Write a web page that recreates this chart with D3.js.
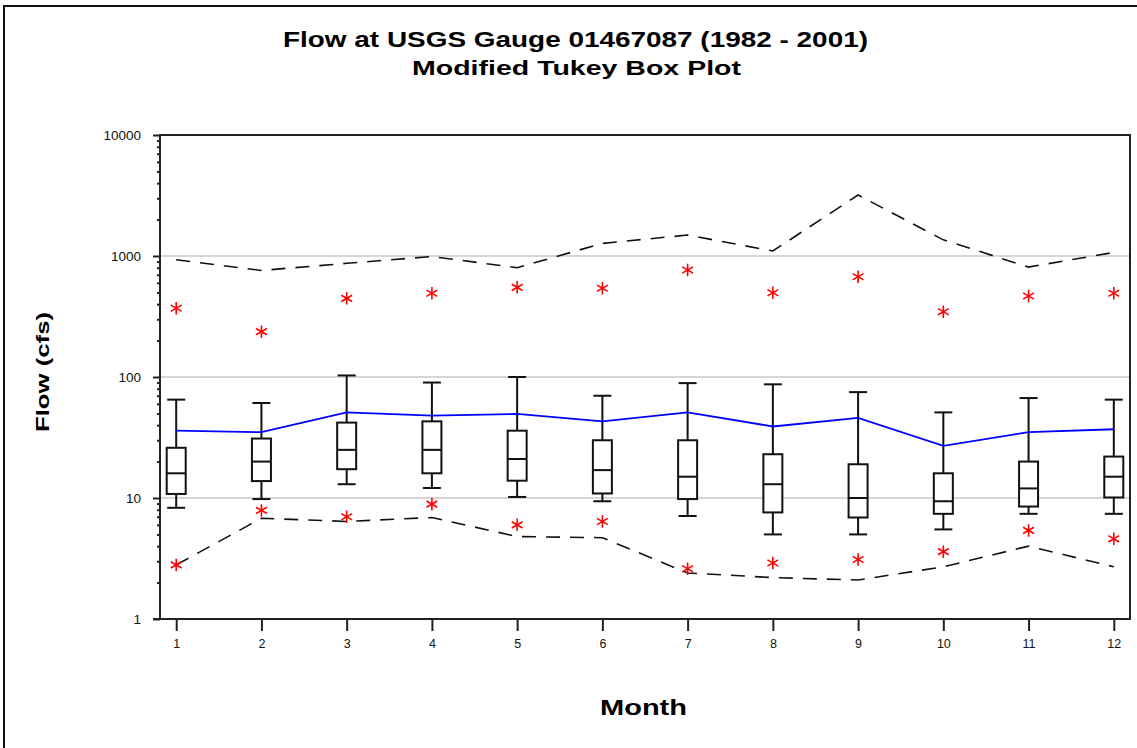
<!DOCTYPE html>
<html>
<head>
<meta charset="utf-8">
<script src="https://cdn.jsdelivr.net/npm/d3@7"></script>
<style>
  body { margin: 0; background: #fff; }
  text { font-family: "Liberation Sans", Arial, sans-serif; }
</style>
</head>
<body>
<div id="chart"></div>
<script>
// monthly flow statistics (cfs)
var months      = [1, 2, 3, 4, 5, 6, 7, 8, 9, 10, 11, 12];
var whiskerHigh = [65, 61, 103, 90, 100, 70, 89, 87, 75, 51, 67, 65];
var q3          = [26, 31, 42, 43, 36, 30, 30, 23, 19, 16, 20, 22];
var medians     = [16, 20, 25, 25, 21, 17, 15, 13, 10, 9.4, 12, 15];
var q1          = [10.8, 13.8, 17.3, 16, 13.9, 10.9, 9.8, 7.6, 6.9, 7.4, 8.5, 10.1];
var whiskerLow  = [8.3, 9.8, 13, 12.1, 10.2, 9.4, 7.1, 5.0, 5.0, 5.5, 7.4, 7.4];
var means       = [36, 35, 51, 48, 49.5, 43, 51, 39, 46, 27, 35, 37];
var maxFlow     = [930, 760, 870, 990, 800, 1270, 1490, 1100, 3190, 1360, 810, 1070];
var minFlow     = [2.8, 6.8, 6.4, 6.9, 4.8, 4.7, 2.4, 2.2, 2.1, 2.7, 4.0, 2.7];
var outHigh     = [370, 237, 447, 492, 551, 541, 766, 497, 674, 346, 467, 492];
var outLow      = [2.8, 7.9, 7.0, 8.9, 6.0, 6.4, 2.6, 2.9, 3.1, 3.6, 5.4, 4.6];
var yTicks      = [1, 10, 100, 1000, 10000];

var W = 1137, H = 748;
var margin = { top: 135, left: 160, right: 7, bottom: 129 };
var width = W - margin.left - margin.right;
var height = H - margin.top - margin.bottom;

var svg = d3.select("#chart").append("svg")
  .attr("width", W).attr("height", H);

// outer figure border
svg.append("path")
  .attr("d", "M4,748 V6 H1137")
  .attr("fill", "none").attr("stroke", "#111").attr("stroke-width", 2);

// the original's lettering is wide, so titles are fitted to the measured widths
svg.append("text").attr("x", 283).attr("y", 47)
  .attr("font-weight", "bold").attr("font-size", 22)
  .attr("textLength", 585).attr("lengthAdjust", "spacingAndGlyphs")
  .text("Flow at USGS Gauge 01467087 (1982 - 2001)");
svg.append("text").attr("x", 412).attr("y", 75)
  .attr("font-weight", "bold").attr("font-size", 21)
  .attr("textLength", 329).attr("lengthAdjust", "spacingAndGlyphs")
  .text("Modified Tukey Box Plot");

var x = d3.scaleLinear().domain([0.81, 12.19]).range([0, width]);
var y = d3.scaleLog().domain([1, 10000]).range([height, 0]);

var g = svg.append("g")
  .attr("transform", "translate(" + margin.left + "," + margin.top + ")");

// gridlines
g.selectAll("line.grid").data([10, 100, 1000]).enter()
  .append("line").attr("class", "grid")
  .attr("x1", 0).attr("x2", width)
  .attr("y1", d => y(d)).attr("y2", d => y(d))
  .attr("stroke", "#c8c8c8").attr("stroke-width", 1.5);

// minor ticks
var minor = [];
for (var e = 0; e < 4; e++)
  for (var k = 2; k <= 9; k++) minor.push(k * Math.pow(10, e));

var yMinor = g.append("g")
  .call(d3.axisLeft(y).tickValues(minor).tickFormat("").tickSize(3).tickSizeOuter(0));
yMinor.select(".domain").remove();

var yAxis = g.append("g")
  .call(d3.axisLeft(y).tickValues(yTicks).tickFormat(d3.format("d"))
    .tickSize(7).tickSizeOuter(0).tickPadding(12));
yAxis.select(".domain").remove();
yAxis.selectAll("text").attr("font-size", 13.5).attr("fill", "#111");

var xAxis = g.append("g")
  .attr("transform", "translate(0," + height + ")")
  .call(d3.axisBottom(x).tickValues(months).tickFormat(d3.format("d"))
    .tickSize(12).tickSizeOuter(0).tickPadding(8));
xAxis.select(".domain").remove();
xAxis.selectAll("text").attr("font-size", 12.5).attr("fill", "#111");

svg.selectAll(".tick line").attr("stroke", "#222").attr("stroke-width", 2);

// plot frame
g.append("rect").attr("width", width).attr("height", height)
  .attr("fill", "none").attr("stroke", "#222").attr("stroke-width", 2);
g.append("line").attr("x1", -7).attr("x2", 0).attr("y1", height).attr("y2", height)
  .attr("stroke", "#222").attr("stroke-width", 2);

// boxes
var boxW = 19, capW = 18;
var boxes = g.selectAll("g.box").data(months).enter()
  .append("g").attr("class", "box")
  .attr("transform", d => "translate(" + x(d) + ",0)");

boxes.append("line")
  .attr("y1", (d, i) => y(whiskerHigh[i])).attr("y2", (d, i) => y(whiskerLow[i]))
  .attr("stroke", "#111").attr("stroke-width", 2);
boxes.append("line").attr("x1", -capW / 2).attr("x2", capW / 2)
  .attr("y1", (d, i) => y(whiskerHigh[i])).attr("y2", (d, i) => y(whiskerHigh[i]))
  .attr("stroke", "#111").attr("stroke-width", 2);
boxes.append("line").attr("x1", -capW / 2).attr("x2", capW / 2)
  .attr("y1", (d, i) => y(whiskerLow[i])).attr("y2", (d, i) => y(whiskerLow[i]))
  .attr("stroke", "#111").attr("stroke-width", 2);
boxes.append("rect").attr("x", -boxW / 2).attr("width", boxW)
  .attr("y", (d, i) => y(q3[i])).attr("height", (d, i) => y(q1[i]) - y(q3[i]))
  .attr("fill", "#fff").attr("stroke", "#111").attr("stroke-width", 2);
boxes.append("line").attr("x1", -boxW / 2).attr("x2", boxW / 2)
  .attr("y1", (d, i) => y(medians[i])).attr("y2", (d, i) => y(medians[i]))
  .attr("stroke", "#111").attr("stroke-width", 2);

var line = d3.line().x((d, i) => x(months[i])).y(d => y(d));

g.append("path").datum(means).attr("d", line)
  .attr("fill", "none").attr("stroke", "#0000ff").attr("stroke-width", 1.8);

[maxFlow, minFlow].forEach(function(s) {
  g.append("path").datum(s).attr("d", line)
    .attr("fill", "none").attr("stroke", "#111").attr("stroke-width", 1.6)
    .attr("stroke-dasharray", "14,10");
});

var star = d3.symbol().type(d3.symbolAsterisk).size(110);
[outHigh, outLow].forEach(function(s) {
  g.selectAll(null).data(s).enter().append("path")
    .attr("d", star)
    .attr("transform", (d, i) => "translate(" + x(months[i]) + "," + y(d) + ")")
    .attr("fill", "none").attr("stroke", "#ff0000").attr("stroke-width", 1.6);
});

// axis titles
svg.append("text")
  .attr("transform", "translate(49,432) rotate(-90)")
  .attr("font-weight", "bold").attr("font-size", 19)
  .attr("textLength", 120).attr("lengthAdjust", "spacingAndGlyphs")
  .text("Flow (cfs)");
svg.append("text").attr("x", 600).attr("y", 715)
  .attr("font-weight", "bold").attr("font-size", 22)
  .attr("textLength", 87).attr("lengthAdjust", "spacingAndGlyphs")
  .text("Month");
</script>
</body>
</html>
